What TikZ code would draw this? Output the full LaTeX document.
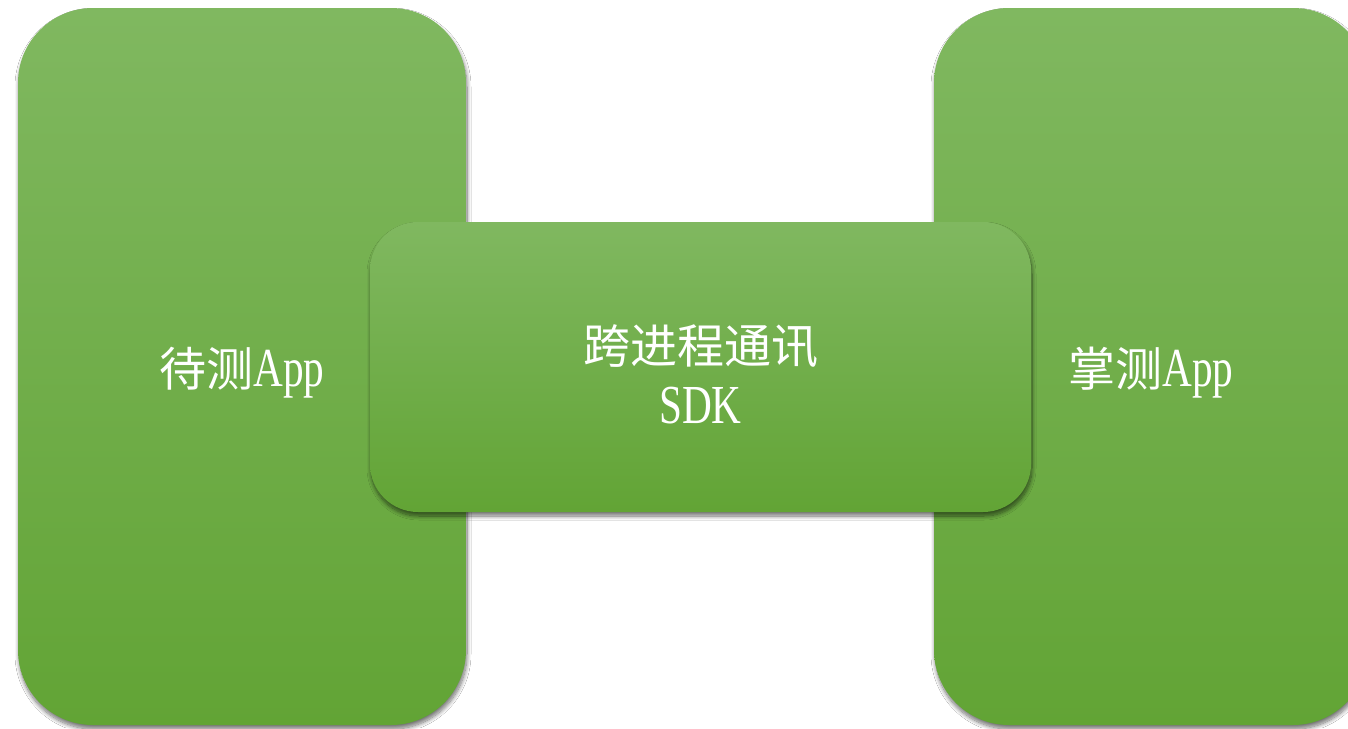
\documentclass[tikz,border=0pt]{standalone}
\usepackage{fontspec}
\newfontfamily\cjk{Noto Sans CJK SC}
\newfontfamily\lat[FakeStretch=0.75]{Liberation Serif}
\usetikzlibrary{shadows.blur}
\definecolor{gtop}{HTML}{80B860}
\definecolor{gbot}{HTML}{62A435}
\newcommand{\lw}[1]{{\lat\fontsize{55}{60}\selectfont #1}}
\tikzset{
  txt/.style={text=white, font=\cjk\fontsize{47}{60}\selectfont, align=center, inner sep=0pt},
  box/.style={rectangle, rounded corners=#1, top color=gtop, bottom color=gbot,
    draw=none, inner sep=0pt, text depth=0pt,
    blur shadow={shadow xshift=1pt, shadow yshift=-4pt, shadow blur radius=4pt,
      shadow blur steps=10, shadow opacity=55}, txt},
}
\begin{document}
\begin{tikzpicture}[x=1pt,y=-1pt]
\useasboundingbox (0,0) rectangle (1348,728);
\clip (0,0) rectangle (1348,728);
\fill[white] (0,0) rectangle (1348,728);
\node[box=75pt, minimum width=448pt, minimum height=717pt] (app) at (242,366.5) {待测\lw{App}};
\node[box=75pt, minimum width=434pt, minimum height=717pt] (ctrl) at (1151,366.5) {掌测\lw{App}};
\node[box=48pt, minimum width=661pt, minimum height=290pt] (sdk) at (700.5,367) {};
\node[txt] (sdktext) at (700.5,374) {跨进程通讯\\\lw{SDK}};
\end{tikzpicture}
\end{document}
